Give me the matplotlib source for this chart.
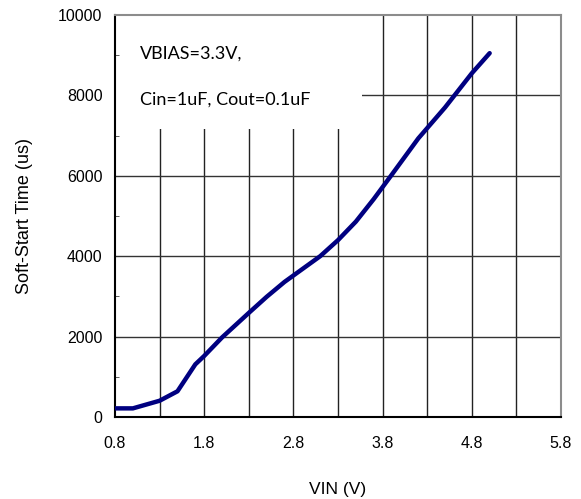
"""
Soft-start time vs input voltage
"""
import numpy as np
import matplotlib.pyplot as plt
from matplotlib.patches import Rectangle

# values
vin = [0.8, 1.0, 1.3, 1.5, 1.7, 1.8, 2.0, 2.3, 2.5, 2.7, 2.9, 3.1, 3.3, 3.5, 3.7, 3.9, 4.2, 4.5, 4.8, 5.0]
t_ss = [215, 215, 405, 640, 1310, 1520, 1980, 2590, 2990, 3360, 3680, 4000, 4400, 4860, 5420, 6020, 6930, 7700, 8550, 9050]

x_ticks = [0.8, 1.8, 2.8, 3.8, 4.8, 5.8]
x_grid = [1.3, 1.8, 2.3, 2.8, 3.3, 3.8, 4.3, 4.8, 5.3]
y_ticks = [0, 2000, 4000, 6000, 8000, 10000]
y_grid = [2000, 4000, 6000, 8000]
notes = ["VBIAS=3.3V,", "Cin=1uF, Cout=0.1uF"]

plt.rcParams['font.family'] = ['Liberation Sans', 'DejaVu Sans']

fig = plt.figure(figsize=(5.81, 4.99), dpi=100)
ax = fig.add_axes([0.198, 0.1643, 0.7676, 0.8057])

# grid drawn by hand so the note box can cover part of it
for g in x_grid:
    ax.axvline(g, color='#222222', lw=1.0, zorder=0.5)
for g in y_grid:
    ax.axhline(g, color='#333333', lw=1.0, zorder=0.5)

# white box behind the notes
ax.add_patch(Rectangle((0, 0.716), 0.554, 0.284, transform=ax.transAxes,
                       facecolor='white', edgecolor='none', zorder=1))
ax.text(0.056, 0.905, notes[0], transform=ax.transAxes, fontsize=13,
        family=['Lato', 'DejaVu Sans'], va='center', ha='left', zorder=3)
ax.text(0.056, 0.789, notes[1], transform=ax.transAxes, fontsize=13,
        family=['Lato', 'DejaVu Sans'], va='center', ha='left', zorder=3)

ax.plot(vin, t_ss, color='#000080', lw=3.2, solid_capstyle='round',
        solid_joinstyle='round', zorder=4)

ax.set_xlim(0.8, 5.8)
ax.set_ylim(0, 10000)
ax.set_xticks(x_ticks)
ax.set_xticklabels(["{:.1f}".format(v) for v in x_ticks])
ax.set_yticks(y_ticks)
ax.set_yticks([1000, 3000, 5000, 7000, 9000], minor=True)
ax.tick_params(axis='both', which='major', length=0, labelsize=11.5)
ax.tick_params(axis='x', which='major', pad=14)
ax.tick_params(axis='y', which='major', pad=9)
ax.tick_params(axis='y', which='minor', direction='in', length=3, color='#444444')

for s in ['left', 'bottom']:
    ax.spines[s].set_color('black')
    ax.spines[s].set_linewidth(1.5)
for s in ['top', 'right']:
    ax.spines[s].set_color('#8c8c8c')
    ax.spines[s].set_linewidth(1.5)

ax.set_xlabel("VIN (V)", fontsize=12.5, labelpad=22)
ax.set_ylabel("Soft-Start Time (us)", fontsize=13, labelpad=18)

fig.savefig("out.png", dpi=100)
